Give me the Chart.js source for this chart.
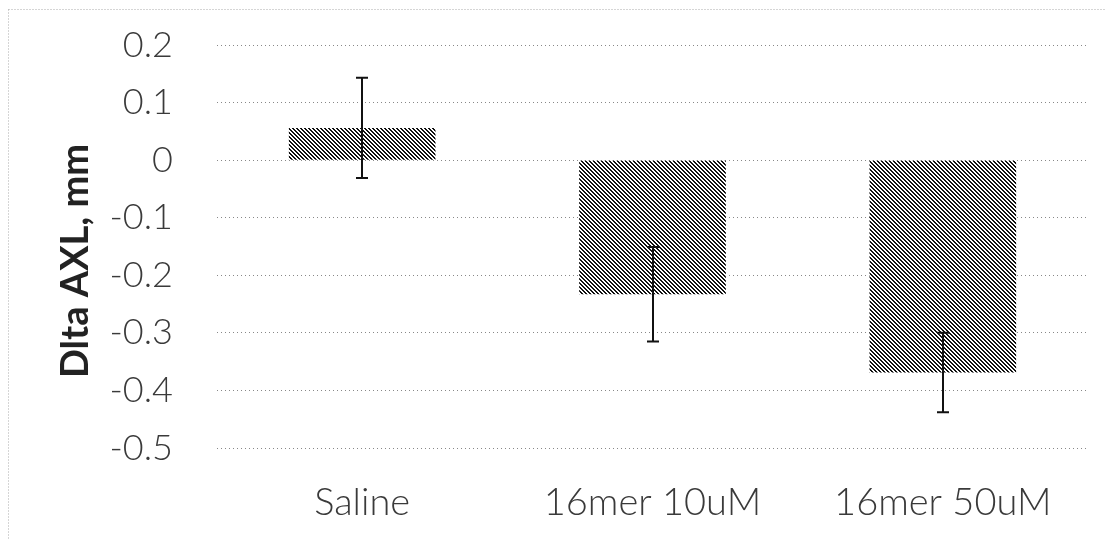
<!DOCTYPE html>
<html>
<head>
<meta charset="utf-8">
<script src="https://cdn.jsdelivr.net/npm/chart.js@4.4.1/dist/chart.umd.min.js"></script>
<style>
  html, body { margin: 0; padding: 0; background: #ffffff; }
  #wrap { width: 1106px; height: 539px; position: relative; }
</style>
</head>
<body>
<div id="wrap"><canvas id="c" width="1106" height="539"></canvas></div>
<script>
const categories = ['Saline', '16mer 10uM', '16mer 50uM'];
const values = [0.056, -0.233, -0.369];
const errors = [0.087, 0.082, 0.069];
const yTickValues = [0.2, 0.1, 0, -0.1, -0.2, -0.3, -0.4, -0.5];
const yTitle = 'Dlta AXL, mm';

function makePattern() {
  const p = document.createElement('canvas');
  p.width = 4; p.height = 4;
  const g = p.getContext('2d');
  g.fillStyle = '#ffffff';
  g.fillRect(0, 0, 4, 4);
  g.fillStyle = '#111111';
  for (let i = 0; i < 4; i++) {
    g.fillRect(i, i, 1, 1);
    g.fillRect((i + 1) % 4, i, 1, 1);
  }
  return document.getElementById('c').getContext('2d').createPattern(p, 'repeat');
}

const errorBars = {
  id: 'errorBars',
  afterDatasetsDraw(chart) {
    const ctx = chart.ctx;
    const meta = chart.getDatasetMeta(0);
    const ys = chart.scales.y;
    ctx.save();
    ctx.strokeStyle = '#111111';
    ctx.lineWidth = 2;
    meta.data.forEach((bar, i) => {
      const x = Math.round(bar.x);
      const yT = ys.getPixelForValue(values[i] + errors[i]);
      const yB = ys.getPixelForValue(values[i] - errors[i]);
      ctx.beginPath();
      ctx.moveTo(x, yT); ctx.lineTo(x, yB);
      ctx.moveTo(x - 6, yT); ctx.lineTo(x + 6, yT);
      ctx.moveTo(x - 6, yB); ctx.lineTo(x + 6, yB);
      ctx.stroke();
    });
    ctx.restore();
  }
};

const frameAndTitle = {
  id: 'frameAndTitle',
  beforeDraw(chart) {
    const ctx = chart.ctx;
    ctx.save();
    ctx.strokeStyle = '#aaaaaa';
    ctx.lineWidth = 1;
    ctx.setLineDash([1, 2]);
    ctx.beginPath();
    ctx.moveTo(8.5, 9.5); ctx.lineTo(1106, 9.5);
    ctx.moveTo(8.5, 9.5); ctx.lineTo(8.5, 539);
    ctx.stroke();
    ctx.restore();
  },
  afterDraw(chart) {
    const ctx = chart.ctx;
    ctx.save();
    ctx.translate(76, 261);
    ctx.rotate(-Math.PI / 2);
    ctx.fillStyle = '#222222';
    ctx.font = 'bold 38px Lato';
    ctx.textAlign = 'center';
    ctx.textBaseline = 'middle';
    ctx.fillText(yTitle, 0, 0);
    ctx.restore();
  }
};

new Chart(document.getElementById('c'), {
  type: 'bar',
  data: {
    labels: categories,
    datasets: [{
      data: values,
      backgroundColor: makePattern(),
      borderWidth: 0,
      categoryPercentage: 1.0,
      barPercentage: 0.505
    }]
  },
  options: {
    responsive: false,
    animation: false,
    layout: { padding: { left: 10, right: 18, top: 45, bottom: 0 } },
    plugins: { legend: { display: false }, tooltip: { enabled: false } },
    scales: {
      x: {
        grid: { display: false, drawTicks: false },
        border: { display: false },
        afterFit(s) { s.height = 91; s.paddingLeft = 0; s.paddingRight = 0; },
        ticks: {
          padding: 32,
          color: '#3a3a3a',
          font: { family: 'Lato', size: 38, weight: 300 }
        }
      },
      y: {
        min: -0.5, max: 0.2,
        afterBuildTicks(axis) { axis.ticks = yTickValues.map(v => ({ value: v })); },
        afterFit(s) { s.width = 207; s.paddingTop = 0; s.paddingBottom = 0; },
        grid: { color: '#888888', lineWidth: 1, drawTicks: false },
        border: { display: false, dash: [1, 3] },
        ticks: {
          padding: 44,
          color: '#3a3a3a',
          font: { family: 'Lato', size: 36, weight: 300 },
          callback: (v) => String(Math.round(v * 10) / 10)
        }
      }
    }
  },
  plugins: [errorBars, frameAndTitle]
});
</script>
</body>
</html>
